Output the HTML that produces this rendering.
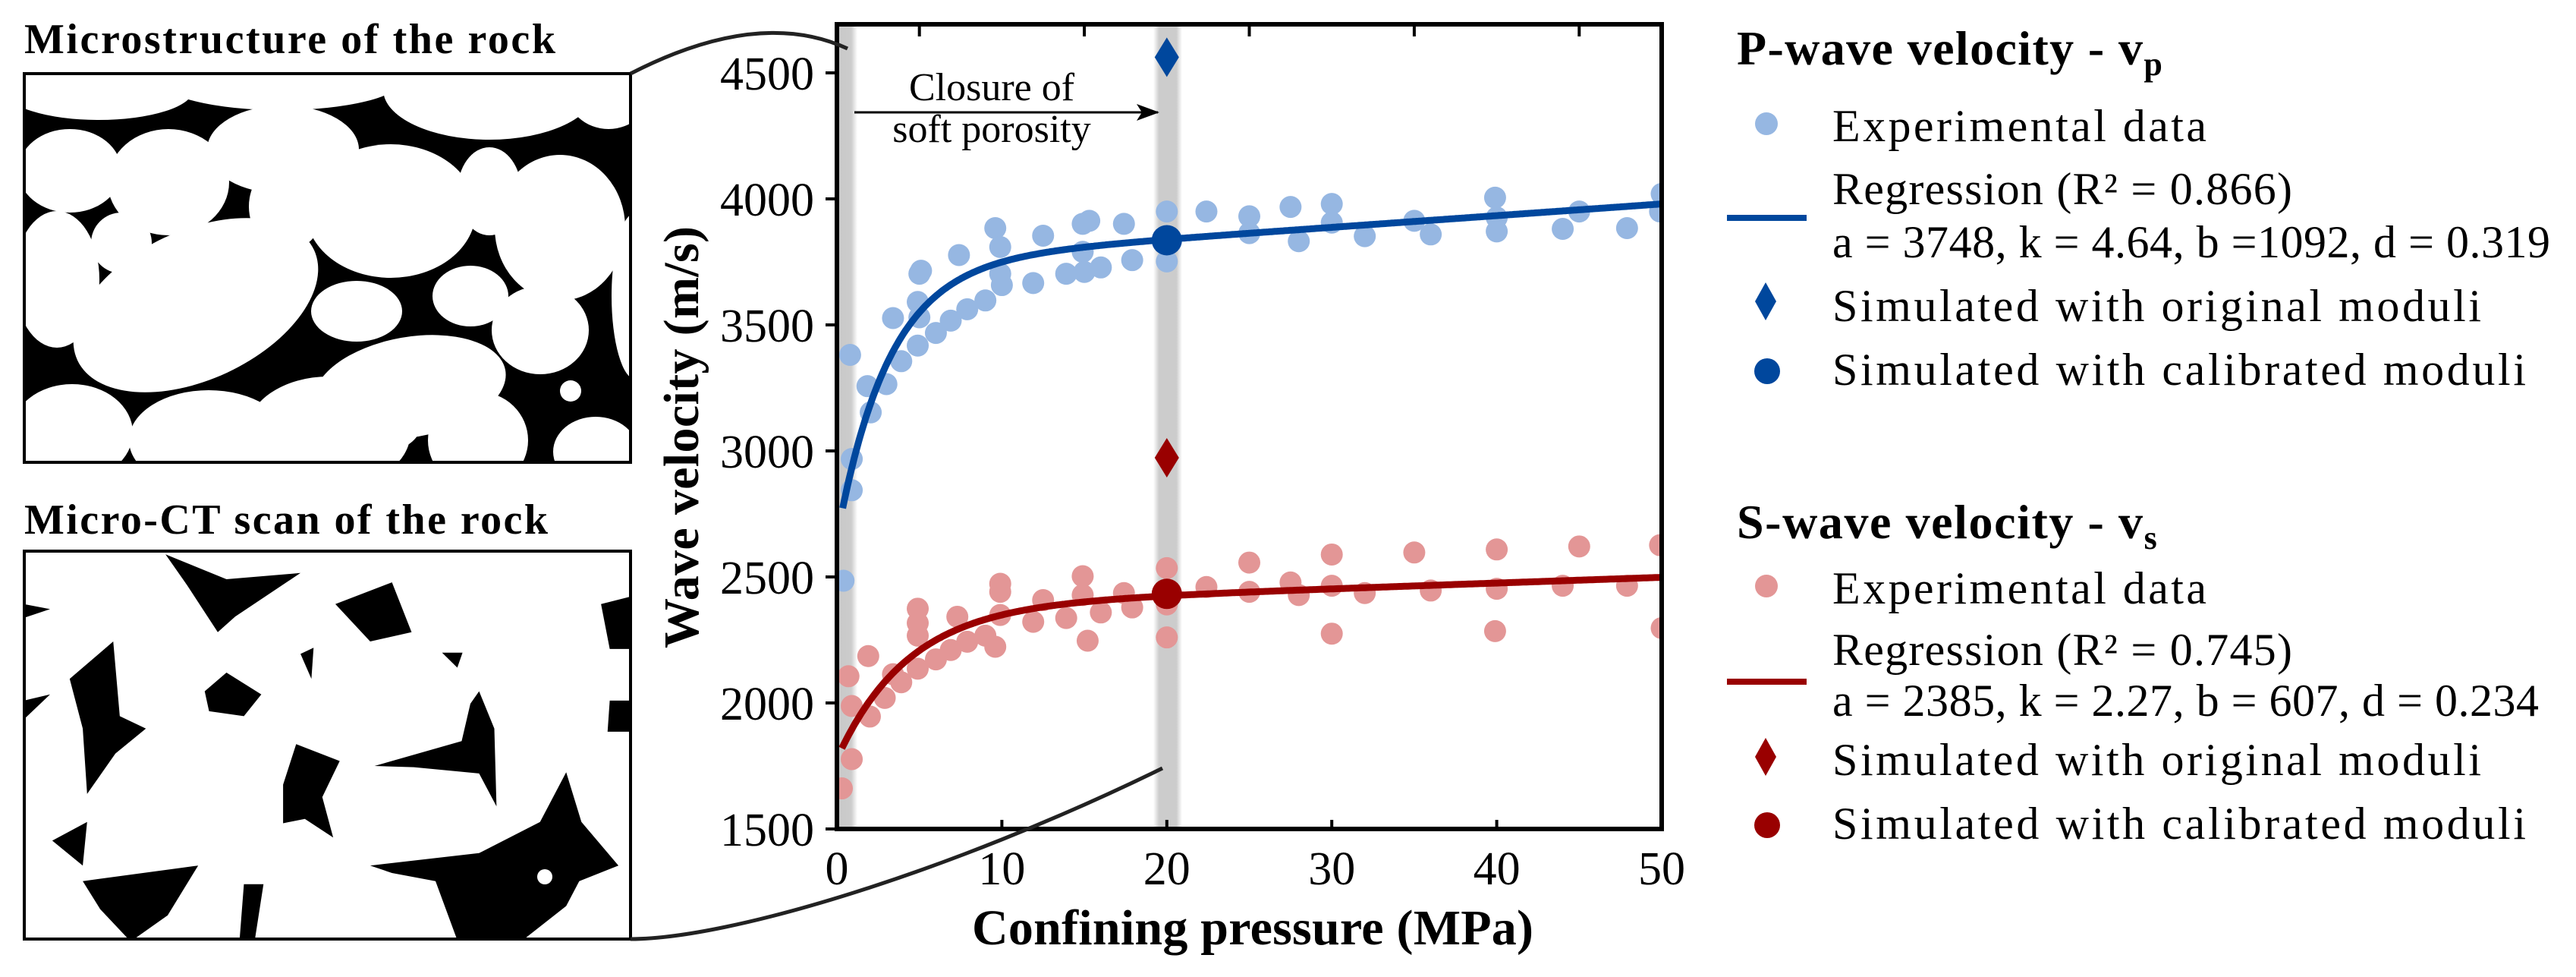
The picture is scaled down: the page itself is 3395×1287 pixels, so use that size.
<!DOCTYPE html>
<html><head><meta charset="utf-8">
<style>
html,body{margin:0;padding:0;background:#fff;}
svg{display:block;}
text{font-family:"Liberation Serif","DejaVu Serif",serif;fill:#000;}
</style></head>
<body>
<svg id="fig" xmlns="http://www.w3.org/2000/svg" width="3395" height="1287" viewBox="0 0 3395 1287">
  <defs>
    <clipPath id="clip1"><rect x="32" y="97" width="799" height="512"/></clipPath>
    <clipPath id="clip2"><rect x="32" y="726" width="799" height="511"/></clipPath>
    <clipPath id="plotclip"><rect x="1103" y="32" width="1087" height="1060"/></clipPath>
    <linearGradient id="band1" x1="0" x2="1" y1="0" y2="0">
      <stop offset="0" stop-color="#c8c8c8"/><stop offset="0.7" stop-color="#cccccc"/><stop offset="1" stop-color="#cccccc" stop-opacity="0"/>
    </linearGradient>
    <linearGradient id="band2" x1="0" x2="1" y1="0" y2="0">
      <stop offset="0" stop-color="#cccccc" stop-opacity="0"/><stop offset="0.2" stop-color="#cccccc"/><stop offset="0.8" stop-color="#cccccc"/><stop offset="1" stop-color="#cccccc" stop-opacity="0"/>
    </linearGradient>
  </defs>

  <!-- Left panel: microstructure -->
  <text x="32" y="70" font-size="56" font-weight="bold" textLength="700">Microstructure of the rock</text>
  <g clip-path="url(#clip1)">
    <rect x="32" y="97" width="799" height="512" fill="#000"/>
    <g fill="#fff">
      <ellipse cx="130" cy="118" rx="125" ry="40"/>
      <ellipse cx="92" cy="225" rx="68" ry="55"/>
      <ellipse cx="75" cy="368" rx="56" ry="90"/>
      <ellipse cx="222" cy="240" rx="80" ry="70"/>
      <ellipse cx="258" cy="402" rx="172" ry="98" transform="rotate(-25 258 402)"/>
      <ellipse cx="373" cy="197" rx="100" ry="58"/>
      <ellipse cx="370" cy="105" rx="160" ry="40"/>
      <ellipse cx="378" cy="272" rx="50" ry="58"/>
      <ellipse cx="515" cy="278" rx="112" ry="88"/>
      <ellipse cx="645" cy="118" rx="140" ry="66"/>
      <ellipse cx="540" cy="510" rx="128" ry="66" transform="rotate(-10 540 510)"/>
      <ellipse cx="645" cy="252" rx="42" ry="58"/>
      <ellipse cx="738" cy="300" rx="86" ry="96"/>
      <ellipse cx="712" cy="435" rx="64" ry="58"/>
      <ellipse cx="802" cy="118" rx="56" ry="52"/>
      <ellipse cx="838" cy="390" rx="32" ry="110"/>
      <ellipse cx="275" cy="580" rx="105" ry="66"/>
      <ellipse cx="433" cy="570" rx="108" ry="74"/>
      <ellipse cx="512" cy="555" rx="44" ry="38"/>
      <ellipse cx="630" cy="580" rx="66" ry="64"/>
      <ellipse cx="785" cy="595" rx="56" ry="46"/>
      <ellipse cx="95" cy="570" rx="80" ry="64"/>
      <ellipse cx="160" cy="320" rx="40" ry="40"/>
      <ellipse cx="470" cy="410" rx="60" ry="40"/>
      <ellipse cx="620" cy="390" rx="50" ry="40"/>
    </g>
    <circle cx="752" cy="515" r="14" fill="#fff"/>
  </g>
  <rect x="32" y="97" width="799" height="512" fill="none" stroke="#000" stroke-width="4"/>

  <!-- Left panel: micro-CT -->
  <text x="32" y="703" font-size="56" font-weight="bold" textLength="690">Micro-CT scan of the rock</text>
  <g clip-path="url(#clip2)">
    <rect x="32" y="726" width="799" height="511" fill="#fff"/>
    <g fill="#000" transform="translate(0,25) scale(0.574,0.820)">
      <polygon points="380,860 520,900 690,890 540,960 500,985 430,910"/>
      <polygon points="770,940 900,905 945,985 850,1000"/>
      <polygon points="160,1060 260,1000 275,1120 335,1140 265,1180 200,1245 190,1140"/>
      <polygon points="470,1080 520,1050 600,1085 560,1120 480,1112"/>
      <polygon points="650,1230 680,1165 780,1192 740,1250 765,1315 700,1285 650,1292"/>
      <polygon points="860,1200 1060,1160 1080,1100 1100,1080 1135,1140 1140,1265 1100,1212 950,1202"/>
      <polygon points="190,1385 455,1360 385,1440 300,1482 230,1430"/>
      <polygon points="120,1320 200,1290 190,1360"/>
      <polygon points="850,1360 1100,1340 1240,1290 1300,1210 1335,1290 1420,1360 1330,1385 1300,1425 1200,1480 1050,1480 1000,1385 900,1372"/>
      <polygon points="1380,940 1447,928 1447,1012 1400,1012"/>
      <polygon points="1400,1095 1447,1095 1447,1145 1395,1145"/>
      <polygon points="560,1390 605,1390 585,1480 550,1480"/>
      <polygon points="55,940 115,948 55,962"/>
      <polygon points="1015,1018 1062,1018 1050,1042"/>
      <polygon points="55,1095 115,1085 55,1125"/>
      <polygon points="690,1020 720,1010 715,1060"/>
    </g>
    <circle cx="718" cy="1155" r="10" fill="#fff"/>
  </g>
  <rect x="32" y="726" width="799" height="511" fill="none" stroke="#000" stroke-width="4"/>

  <!-- gray bands -->
  <rect x="1103" y="32" width="27" height="1060" fill="url(#band1)"/>
  <rect x="1520" y="32" width="38" height="1060" fill="url(#band2)"/>

  <g id="plotlayer" clip-path="url(#plotclip)"></g>

  <!-- annotation -->
  <text x="1307" y="132" font-size="52" text-anchor="middle">Closure of</text>
  <text x="1307" y="187" font-size="52" text-anchor="middle">soft porosity</text>
  <line x1="1126" y1="148" x2="1526" y2="148" stroke="#000" stroke-width="3"/>
  <path d="M1528,148 L1498,137 L1505,148 L1498,159 Z" fill="#000"/>

  <g id="axes"></g>

  <!-- connector curves -->
  <path d="M831,97 Q1000,10 1117,64" fill="none" stroke="#222" stroke-width="5"/>
  <path d="M831,1237 C960,1237 1250,1150 1532,1012" fill="none" stroke="#222" stroke-width="5"/>

  <!-- axis titles -->
  <text x="2" y="0" font-size="66" font-weight="bold" text-anchor="middle" transform="translate(920,578) rotate(-90)" textLength="556">Wave velocity (m/s)</text>
  <text x="1651" y="1244" font-size="66" font-weight="bold" text-anchor="middle" textLength="740">Confining pressure (MPa)</text>

  <!-- Legend P -->
  <g>
    <text x="2289" y="85" font-size="64" font-weight="bold"><tspan textLength="535">P-wave velocity - v</tspan><tspan font-size="44" dy="14">p</tspan></text>
    <circle cx="2328" cy="163" r="15" fill="#96b7e2"/>
    <text x="2415" y="186" font-size="60" textLength="493">Experimental data</text>
    <line x1="2276" y1="287" x2="2381" y2="287" stroke="#00479d" stroke-width="8"/>
    <text x="2415" y="269" font-size="60" textLength="606">Regression (R² = 0.866)</text>
    <text x="2415" y="339" font-size="60" textLength="946">a = 3748, k = 4.64, b =1092, d = 0.319</text>
    <path d="M2327,372 L2341,397 L2327,422 L2313,397 Z" fill="#00479d"/>
    <text x="2415" y="423" font-size="60" textLength="855">Simulated with original moduli</text>
    <circle cx="2329" cy="489" r="17" fill="#00479d"/>
    <text x="2415" y="507" font-size="60" textLength="914">Simulated with calibrated moduli</text>
  </g>
  <!-- Legend S -->
  <g>
    <text x="2289" y="709" font-size="64" font-weight="bold"><tspan textLength="535">S-wave velocity - v</tspan><tspan font-size="44" dy="14">s</tspan></text>
    <circle cx="2328" cy="772" r="15" fill="#e39696"/>
    <text x="2415" y="795" font-size="60" textLength="493">Experimental data</text>
    <line x1="2276" y1="898" x2="2381" y2="898" stroke="#990000" stroke-width="8"/>
    <text x="2415" y="876" font-size="60" textLength="606">Regression (R² = 0.745)</text>
    <text x="2415" y="943" font-size="60" textLength="931">a = 2385, k = 2.27, b = 607, d = 0.234</text>
    <path d="M2327,972 L2341,997 L2327,1022 L2313,997 Z" fill="#990000"/>
    <text x="2415" y="1021" font-size="60" textLength="855">Simulated with original moduli</text>
    <circle cx="2329" cy="1087" r="17" fill="#990000"/>
    <text x="2415" y="1105" font-size="60" textLength="914">Simulated with calibrated moduli</text>
  </g>
</svg>
<script>
// ---- data ----
const xTicks = [0, 10, 20, 30, 40, 50];
const yTicks = [1500, 2000, 2500, 3000, 3500, 4000, 4500];
const topMinorTicks = [5, 15, 25, 35, 45];
const pPressure = [0.4,0.8,0.9,0.9,1.85,2.05,3,3.4,3.9,4.9,4.9,5,5,5.1,6,6.9,7.4,7.9,9,9.6,9.9,9.9,10,11.9,12.5,13.9,14.9,14.9,15,15.3,16,17.4,17.9,20,20,22.4,25,25,27.5,28,30,30,32,35,36,39.9,40,40,44,45,47.9,49.9,50];
const pVel = [2485,3381,2968,2844,3257,3153,3265,3527,3356,3418,3591,3530,3703,3715,3468,3517,3777,3562,3597,3884,3809,3703,3658,3666,3854,3703,3901,3790,3710,3913,3728,3901,3757,3950,3752,3950,3931,3864,3968,3832,3980,3906,3852,3913,3859,4005,3871,3926,3881,3950,3884,3950,4020];
const sPressure = [0.3,0.9,0.7,0.9,1.9,2,2.9,3.4,3.9,4.9,4.9,4.9,4.9,6,6.9,7.3,7.9,9,9.6,9.9,9.9,9.9,11.9,12.5,13.9,14.9,14.9,15.2,16,17.4,17.9,20,20,20,22.4,25,25,27.5,28,30,30,30,32,35,36,40,40,39.9,44,45,47.9,49.9,50];
const sVel = [1661,1777,2106,1988,2186,1946,2020,2114,2082,2374,2317,2267,2136,2173,2210,2342,2243,2267,2223,2473,2441,2349,2322,2408,2337,2503,2428,2247,2359,2436,2379,2535,2391,2260,2460,2557,2441,2478,2428,2589,2465,2275,2436,2597,2446,2609,2453,2285,2465,2621,2465,2626,2297];
const pRegParams = [3748, 4.64, 1092, 0.319]; // a, k, b, d
const sRegParams = [2385, 2.27, 607, 0.234];
const simPressure = [20];
const pSimOriginal = [4562];
const pSimCalibrated = [3836];
const sSimOriginal = [2973];
const sSimCalibrated = [2433];

// ---- scales ----
const X0 = 1103, X1 = 2190, Y0 = 1092, Y1 = 32;
const xMin = 0, xMax = 50, yMin = 1500, yPerPx = 3000 / 996;
function xs(p) { return X0 + (p - xMin) / (xMax - xMin) * (X1 - X0); }
function ys(v) { return Y0 - (v - yMin) / yPerPx; }
const NS = 'http://www.w3.org/2000/svg';
function mk(tag, attrs, parent) {
  const e = document.createElementNS(NS, tag);
  for (const k in attrs) e.setAttribute(k, attrs[k]);
  parent.appendChild(e);
  return e;
}
const plot = document.getElementById('plotlayer');
const axes = document.getElementById('axes');

pPressure.forEach((p, i) => {
  const c = mk('circle', {cx: xs(p), cy: ys(pVel[i]), r: 14.5, fill: '#96b7e2'}, plot);
  
  
});
sPressure.forEach((p, i) => {
  const c = mk('circle', {cx: xs(p), cy: ys(sVel[i]), r: 14.5, fill: '#e39696'}, plot);
  
  
});

function regPath(par, pStart) {
  let d = '';
  for (let p = pStart; p <= 50.001; p += 0.1) {
    const v = par[0] + par[1] * p - par[2] * Math.exp(-par[3] * p);
    d += (d ? 'L' : 'M') + xs(p).toFixed(1) + ',' + ys(v).toFixed(1);
  }
  return d;
}
const pl = mk('path', {d: regPath(pRegParams, 0.35), fill: 'none', stroke: '#00479d', 'stroke-width': 9}, plot);


const sl = mk('path', {d: regPath(sRegParams, 0.3), fill: 'none', stroke: '#990000', 'stroke-width': 9}, plot);



function diamond(x, y, col, name) {
  const e = mk('path', {d: `M${x},${y-26} L${x+16},${y} L${x},${y+26} L${x-16},${y} Z`, fill: col}, plot);
  
  
}
simPressure.forEach((p, i) => {
  diamond(xs(p), ys(pSimOriginal[i]), '#00479d', 'p-sim-original');
  diamond(xs(p), ys(sSimOriginal[i]), '#990000', 's-sim-original');
  const c1 = mk('circle', {cx: xs(p), cy: ys(pSimCalibrated[i]), r: 20, fill: '#00479d'}, plot);
  
  
  const c2 = mk('circle', {cx: xs(p), cy: ys(sSimCalibrated[i]), r: 20, fill: '#990000'}, plot);
  
  
});

const fr = mk('rect', {x: X0, y: Y1, width: X1 - X0, height: Y0 - Y1, fill: 'none', stroke: '#000', 'stroke-width': 6}, axes);


yTicks.forEach(v => {
  const t = mk('line', {x1: X0 - 15, x2: X0, y1: ys(v), y2: ys(v), stroke: '#000', 'stroke-width': 4}, axes);
  
  
  const l = mk('text', {x: 1073, y: ys(v) + 22, 'font-size': 62, 'text-anchor': 'end'}, axes);
  l.textContent = v;
  
  
});
xTicks.forEach(p => {
  if (p > 0 && p < 50) {
    const t = mk('line', {x1: xs(p), x2: xs(p), y1: Y0, y2: Y0 - 12, stroke: '#000', 'stroke-width': 4}, axes);
    
    
  }
  const l = mk('text', {x: xs(p), y: 1165, 'font-size': 62, 'text-anchor': 'middle'}, axes);
  l.textContent = p;
  
  
});
topMinorTicks.forEach(p => {
  const t = mk('line', {x1: xs(p), x2: xs(p), y1: Y1, y2: Y1 + 16, stroke: '#000', 'stroke-width': 4}, axes);
  
  
});
</script>
</body></html>
